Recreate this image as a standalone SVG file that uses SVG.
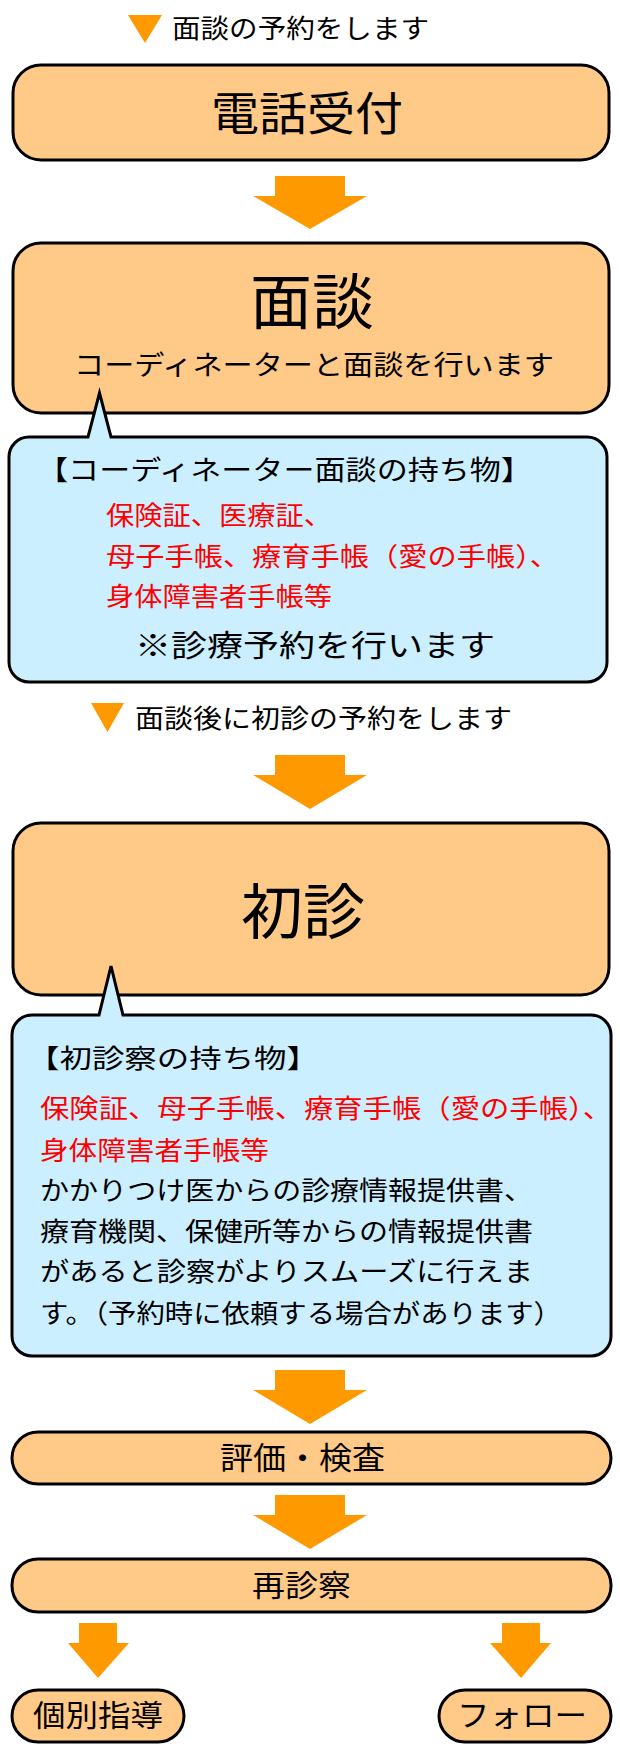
<svg xmlns="http://www.w3.org/2000/svg" width="620" height="1760" viewBox="0 0 620 1760">
<style>
text{font-family:"Noto Sans CJK JP","Noto Sans CJK SC",sans-serif;fill:#000}
.box{fill:#FFC987;stroke:#000;stroke-width:3}
.call{fill:#CCEFFF;stroke:#000;stroke-width:3;stroke-linejoin:miter}
.arr{fill:#FF9900}
.red{fill:#FF0000}
</style>
<rect width="620" height="1760" fill="#fff"/>
<g id="connectors">
<polygon class="arr" points="128,15 162,15 145,43"/>
<polygon class="arr" points="91,703 124,703 107.5,732"/>
<polygon class="arr" points="275,176 345,176 345,196 367,196 310,229 253,196 275,196"/>
<polygon class="arr" points="275,755 345,755 345,775 367,775 310,809 253,775 275,775"/>
<polygon class="arr" points="275,1370 345,1370 345,1390 367,1390 310,1424 253,1390 275,1390"/>
<polygon class="arr" points="275,1495 345,1495 345,1515 367,1515 310,1549 253,1515 275,1515"/>
<polygon class="arr" points="79,1623 117,1623 117,1643 129,1643 98,1678 68,1643 79,1643"/>
<polygon class="arr" points="502,1623 540,1623 540,1643 551,1643 521,1678 490,1643 502,1643"/>
</g>
<g id="label1">
<text x="172" y="38" font-size="26" textLength="257" lengthAdjust="spacingAndGlyphs">面談の予約をします</text>
</g>
<g id="node-denwa">
<rect class="box" x="13" y="65" width="596" height="95" rx="28"/>
<text x="211" y="130" font-size="46" textLength="192" lengthAdjust="spacingAndGlyphs">電話受付</text>
</g>
<g id="node-mendan">
<rect class="box" x="13" y="243" width="596" height="170" rx="28"/>
<text x="250" y="324" font-size="60" textLength="124" lengthAdjust="spacingAndGlyphs">面談</text>
<text x="74" y="375" font-size="27" textLength="480" lengthAdjust="spacingAndGlyphs">コーディネーターと面談を行います</text>
</g>
<g id="callout-mendan">
<path class="call" d="M29 437 H88 L99.5 393 L111 437 H587 A20 20 0 0 1 607 457 V662 A20 20 0 0 1 587 682 H29 A20 20 0 0 1 9 662 V457 A20 20 0 0 1 29 437 Z"/>
<text x="37" y="480" font-size="27" textLength="495" lengthAdjust="spacingAndGlyphs">【コーディネーター面談の持ち物】</text>
<text class="red" x="106" y="525" font-size="26" textLength="226" lengthAdjust="spacingAndGlyphs">保険証、医療証、</text>
<text class="red" x="106" y="566" font-size="26" textLength="453" lengthAdjust="spacingAndGlyphs">母子手帳、療育手帳（愛の手帳）、</text>
<text class="red" x="106" y="606" font-size="26" textLength="226" lengthAdjust="spacingAndGlyphs">身体障害者手帳等</text>
<text x="135" y="656" font-size="30" textLength="360" lengthAdjust="spacingAndGlyphs">※診療予約を行います</text>
</g>
<g id="label2">
<text x="135" y="728" font-size="26" textLength="377" lengthAdjust="spacingAndGlyphs">面談後に初診の予約をします</text>
</g>
<g id="node-shoshin">
<rect class="box" x="13" y="823" width="596" height="172" rx="28"/>
<text x="241" y="934" font-size="60" textLength="124" lengthAdjust="spacingAndGlyphs">初診</text>
</g>
<g id="callout-shoshin">
<path class="call" d="M32 1015 H99 L111 966 L123 1015 H591 A20 20 0 0 1 611 1035 V1336 A20 20 0 0 1 591 1356 H32 A20 20 0 0 1 12 1336 V1035 A20 20 0 0 1 32 1015 Z"/>
<text x="27" y="1068" font-size="26" textLength="292" lengthAdjust="spacingAndGlyphs">【初診察の持ち物】</text>
<text class="red" x="40" y="1118" font-size="26" textLength="572" lengthAdjust="spacingAndGlyphs">保険証、母子手帳、療育手帳（愛の手帳）、</text>
<text class="red" x="40" y="1160" font-size="26" textLength="229" lengthAdjust="spacingAndGlyphs">身体障害者手帳等</text>
<text x="40" y="1200" font-size="26" textLength="493" lengthAdjust="spacingAndGlyphs">かかりつけ医からの診療情報提供書、</text>
<text x="40" y="1241" font-size="26" textLength="493" lengthAdjust="spacingAndGlyphs">療育機関、保健所等からの情報提供書</text>
<text x="40" y="1281" font-size="26" textLength="493" lengthAdjust="spacingAndGlyphs">があると診察がよりスムーズに行えま</text>
<text x="40" y="1323" font-size="26" textLength="522" lengthAdjust="spacingAndGlyphs">す。（予約時に依頼する場合があります）</text>
</g>
<g id="node-hyoka">
<rect class="box" x="12" y="1432" width="599" height="52" rx="26"/>
<text x="220" y="1469" font-size="31" textLength="165" lengthAdjust="spacingAndGlyphs">評価・検査</text>
</g>
<g id="node-saishin">
<rect class="box" x="12" y="1559" width="599" height="53" rx="26"/>
<text x="252" y="1596" font-size="30" textLength="99" lengthAdjust="spacingAndGlyphs">再診察</text>
</g>
<g id="node-kobetsu">
<rect class="box" x="12" y="1690" width="172" height="52" rx="26"/>
<text x="33" y="1726" font-size="30" textLength="130" lengthAdjust="spacingAndGlyphs">個別指導</text>
</g>
<g id="node-follow">
<rect class="box" x="439" y="1690" width="172" height="52" rx="26"/>
<text x="457" y="1726" font-size="30" textLength="130" lengthAdjust="spacingAndGlyphs">フォロー</text>
</g>
</svg>
